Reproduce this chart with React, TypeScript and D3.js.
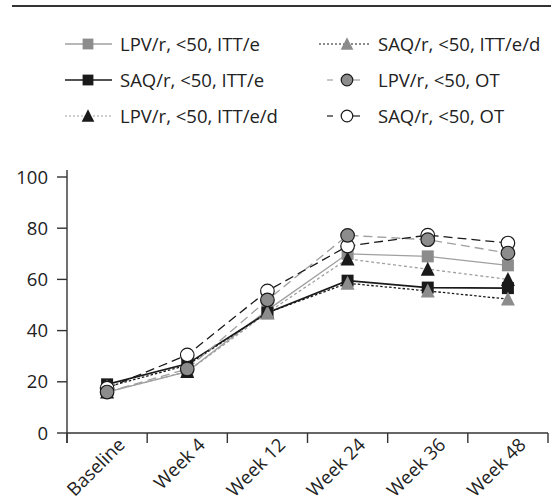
import React from "react";
import * as d3 from "d3";

const categories = ["Baseline", "Week 4", "Week 12", "Week 24", "Week 36", "Week 48"];
const yTicks = [0, 20, 40, 60, 80, 100];

const lpvITTe = [16, 24, 48, 70, 69, 65.5];
const saqITTe = [19, 27, 47, 59.5, 56.8, 56.6];
const lpvITTed = [16, 24, 47, 68, 64, 60];
const saqITTed = [18, 26.5, 47, 58.5, 55.5, 52.3];
const lpvOT = [16, 25, 52, 77.2, 75.5, 70.3];
const saqOT = [17.5, 30.5, 55.5, 73, 77.3, 74.2];

const seriesNames = [
  "LPV/r, <50, ITT/e",
  "SAQ/r, <50, ITT/e",
  "LPV/r, <50, ITT/e/d",
  "SAQ/r, <50, ITT/e/d",
  "LPV/r, <50, OT",
  "SAQ/r, <50, OT",
];

const GRAY = "#8c8c8c";
const LGRAY = "#a0a0a0";
const DARK = "#1a1a1a";

type S = {
  name: string;
  values: number[];
  stroke: string;
  width: number;
  dash: string | null;
  shape: "square" | "triangle" | "circle";
  fill: string;
  outline: string | null;
};

const series: S[] = [
  { name: seriesNames[0], values: lpvITTe, stroke: LGRAY, width: 1.3, dash: null, shape: "square", fill: GRAY, outline: null },
  { name: seriesNames[1], values: saqITTe, stroke: DARK, width: 1.6, dash: null, shape: "square", fill: DARK, outline: null },
  { name: seriesNames[2], values: lpvITTed, stroke: LGRAY, width: 1.3, dash: "3,2.5", shape: "triangle", fill: DARK, outline: null },
  { name: seriesNames[3], values: saqITTed, stroke: DARK, width: 1.3, dash: "2.5,2", shape: "triangle", fill: GRAY, outline: null },
  { name: seriesNames[4], values: lpvOT, stroke: LGRAY, width: 1.3, dash: "9,5", shape: "circle", fill: GRAY, outline: DARK },
  { name: seriesNames[5], values: saqOT, stroke: DARK, width: 1.3, dash: "9,5", shape: "circle", fill: "#ffffff", outline: DARK },
];

const markerOrder = [0, 1, 2, 3, 5, 4];

const FONT = "'Open Sans', 'Noto Sans', sans-serif";

function Marker({ s, cx, cy, k = 1 }: { s: S; cx: number; cy: number; k?: number }) {
  if (s.shape === "square") {
    const a = 12 * k;
    return <rect x={cx - a / 2} y={cy - a / 2} width={a} height={a} fill={s.fill} />;
  }
  if (s.shape === "triangle") {
    const h = 13 * k;
    const w = 14 * k;
    const p = `${cx},${cy - h / 2 - 1} ${cx + w / 2},${cy + h / 2} ${cx - w / 2},${cy + h / 2}`;
    return <polygon points={p} fill={s.fill} />;
  }
  return <circle cx={cx} cy={cy} r={6.8 * k} fill={s.fill} stroke={s.outline || "none"} strokeWidth={1.2} />;
}

export default function App() {
  const W = 551;
  const H = 499;
  const x = d3.scaleBand<string>().domain(categories).range([67, 548]);
  const y = d3.scaleLinear().domain([0, 100]).range([433, 177]);
  const cx = (c: string) => (x(c) as number) + x.bandwidth() / 2;
  const line = d3
    .line<number>()
    .x((_, i) => cx(categories[i]))
    .y((v) => y(v));

  const boundaries = categories.map((c) => x(c) as number).concat([x.range()[1]]);

  const legendRows = [44, 80, 116];
  const legendCols = [
    { x0: 65, x1: 112, mx: 88, tx: 120 },
    { x0: 319, x1: 370, mx: 347, tx: 378 },
  ];
  const FS = 18.5;

  return (
    <svg width={W} height={H} style={{ position: "absolute", left: 0, top: 0, background: "#fff" }} fontFamily={FONT}>
      <rect x={0} y={0} width={W} height={H} fill="#fff" />
      <line x1={12} x2={551} y1={6} y2={6} stroke="#333" strokeWidth={1.8} />

      {series.map((s, i) => {
        const col = legendCols[i < 3 ? 0 : 1];
        const row = legendRows[i % 3];
        const isOT = s.shape === "circle";
        const isDot = !!s.dash && !isOT;
        return (
          <g key={s.name}>
            {isOT ? (
              <g stroke={s.stroke} strokeWidth={1.2}>
                <line x1={col.mx - 20} x2={col.mx - 14} y1={row} y2={row} />
                <line x1={col.mx + 6} x2={col.mx + 13} y1={row} y2={row} />
              </g>
            ) : (
              <line
                x1={col.x0}
                x2={col.x1}
                y1={row}
                y2={row}
                stroke={s.stroke}
                strokeWidth={isDot ? 1 : s.width}
                strokeDasharray={isDot ? "2,2" : undefined}
              />
            )}
            <Marker s={s} cx={col.mx} cy={row} k={isOT ? 0.85 : 0.9} />
            <text x={col.tx} y={row} dy="0.36em" fontSize={FS} fill="#222">
              {s.name}
            </text>
          </g>
        );
      })}

      <line x1={67} x2={67} y1={170} y2={443} stroke="#333" strokeWidth={1.4} />
      <line x1={67} x2={548} y1={433} y2={433} stroke="#333" strokeWidth={1.4} />
      {yTicks.map((t) => (
        <g key={t}>
          <line x1={57} x2={67} y1={y(t)} y2={y(t)} stroke="#333" strokeWidth={1.4} />
          <text x={48} y={y(t)} dy="0.36em" textAnchor="end" fontSize={FS} fill="#222">
            {t}
          </text>
        </g>
      ))}
      {boundaries.map((b, i) => (
        <line key={i} x1={b} x2={b} y1={433} y2={443} stroke="#333" strokeWidth={1.4} />
      ))}
      {categories.map((c) => (
        <text
          key={c}
          transform={`translate(${cx(c) + 19},${446}) rotate(-45)`}
          textAnchor="end"
          fontSize={FS}
          fill="#222"
        >
          {c}
        </text>
      ))}

      {series.map((s) => (
        <path key={s.name} d={line(s.values) || ""} fill="none" stroke={s.stroke} strokeWidth={s.width} strokeDasharray={s.dash || undefined} />
      ))}
      {markerOrder.map((k) => {
        const s = series[k];
        return (
          <g key={s.name}>
            {s.values.map((v, i) => (
              <Marker key={i} s={s} cx={cx(categories[i])} cy={y(v)} />
            ))}
          </g>
        );
      })}
    </svg>
  );
}
